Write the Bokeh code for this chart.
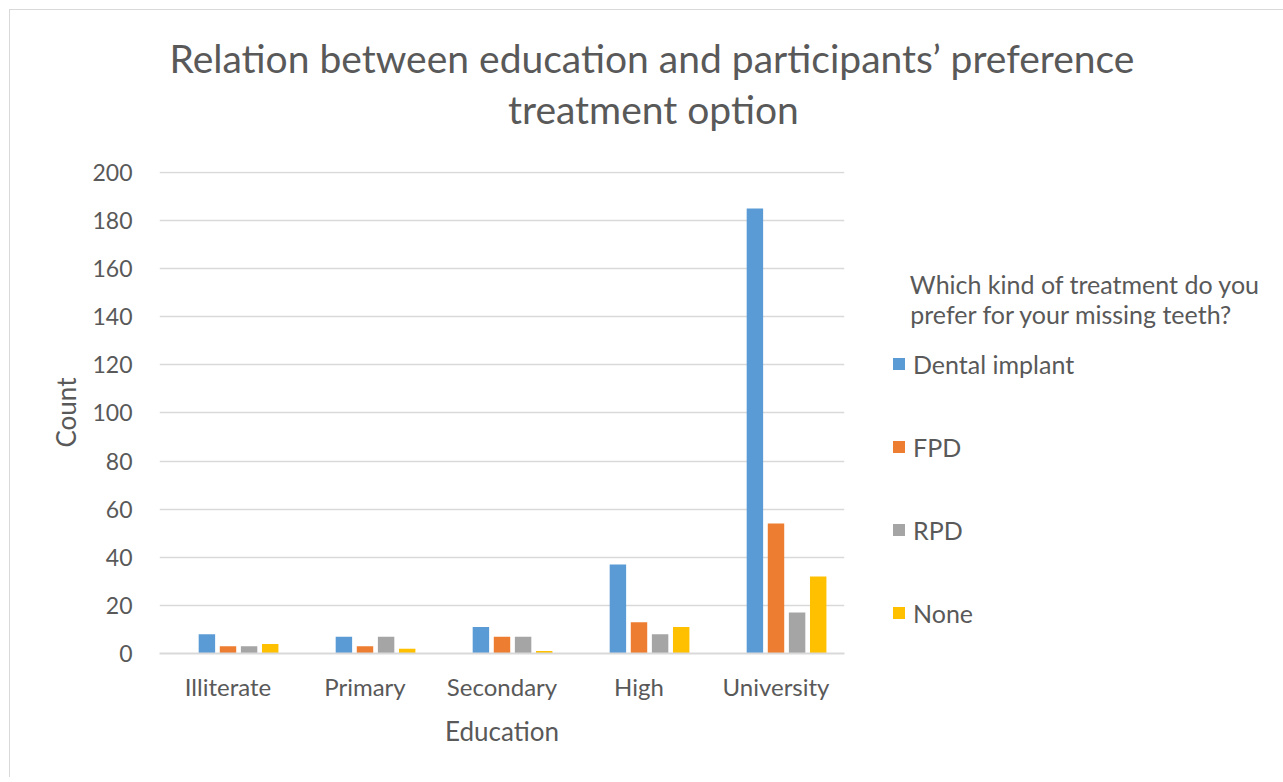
from bokeh.plotting import figure
from bokeh.models import Range1d, FixedTicker, Title, ColumnDataSource
from bokeh.transform import dodge
from bokeh.embed import file_html
from bokeh.resources import INLINE

# Survey counts: education level vs preferred treatment for missing teeth
education = ["Illiterate", "Primary", "Secondary", "High", "University"]
dental_implant = [8, 7, 11, 37, 185]
fpd = [3, 3, 7, 13, 54]
rpd = [3, 7, 7, 8, 17]
none = [4, 2, 1, 11, 32]
series_names = ["Dental implant", "FPD", "RPD", "None"]
y_ticks = [0, 20, 40, 60, 80, 100, 120, 140, 160, 180, 200]

title_lines = ["Relation between education and participants\u2019 preference",
               "treatment option"]
legend_title_lines = ["Which kind of treatment do you",
                      "prefer for your missing teeth?"]

FONT = "Lato"
TEXT = "#595959"
GRID = "#D9D9D9"
colors = ["#5B9BD5", "#ED7D31", "#A5A5A5", "#FFC000"]

source = ColumnDataSource(dict(education=education, dental=dental_implant,
                               fpd=fpd, rpd=rpd, none=none))

p = figure(x_range=education, y_range=Range1d(0, 200.4),
           frame_width=685, frame_height=482,
           min_border_left=149, min_border_right=435,
           min_border_top=161, min_border_bottom=124,
           output_backend="svg", toolbar_location=None,
           background_fill_color="white", border_fill_color="white",
           outline_line_color=None)
p.styles = {"margin-left": "9px", "margin-top": "9px",
            "border-left": "1px solid #D9D9D9", "border-top": "1px solid #D9D9D9"}

offsets = [-0.154, 0.0, 0.154, 0.308]
fields = ["dental", "fpd", "rpd", "none"]
for field, off, col, name in zip(fields, offsets, colors, series_names):
    p.vbar(x=dodge("education", off, range=p.x_range), top=field, width=0.12,
           source=source, fill_color=col, line_color=None, legend_label=name)

# axes
p.yaxis.ticker = FixedTicker(ticks=y_ticks)
p.yaxis.axis_line_color = None
p.yaxis.major_tick_line_color = None
p.yaxis.minor_tick_line_color = None
p.yaxis.major_label_standoff = 21
p.yaxis.axis_label = "Count"
p.yaxis.axis_label_standoff = 7
p.yaxis.major_label_text_font_size = "23px"

p.xaxis.axis_line_color = GRID
p.xaxis.axis_line_width = 2
p.xaxis.major_tick_line_color = None
p.xaxis.minor_tick_line_color = None
p.xaxis.major_label_standoff = 12
p.xaxis.axis_label = "Education"
p.xaxis.axis_label_standoff = 11
p.xaxis.major_label_text_font_size = "24px"

for ax in (p.xaxis, p.yaxis):
    ax.major_label_text_font = FONT
    ax.major_label_text_color = TEXT
    ax.axis_label_text_font = FONT
    ax.axis_label_text_font_size = "26px"
    ax.axis_label_text_font_style = "normal"
    ax.axis_label_text_color = TEXT

p.xgrid.grid_line_color = None
p.ygrid.grid_line_color = GRID
p.ygrid.grid_line_width = 1.5

# two-line chart title; the inner line is added first, the outer one is
# pulled down towards it with a negative standoff
for text, off, standoff in zip(reversed(title_lines), [348.5, 10], [79, -73]):
    p.add_layout(Title(text=text, align="left", offset=off, standoff=standoff,
                       text_font=FONT, text_font_size="39px",
                       text_font_style="normal", text_color=TEXT), "above")

lg = p.legend[0]
p.center.remove(lg)
indent = "\u00a0" * 3
lg.title = "\n".join(indent + t for t in legend_title_lines)
lg.title_text_font = FONT
lg.title_text_font_size = "25px"
lg.title_text_font_style = "normal"
lg.title_text_color = TEXT
lg.title_standoff = 20
lg.location = (47, 25.5)
lg.padding = 0
lg.margin = 0
lg.border_line_color = None
lg.background_fill_alpha = 0
lg.glyph_width = 15
lg.glyph_height = 15
lg.label_height = 28
lg.label_standoff = 7
lg.spacing = 53
lg.label_text_font = FONT
lg.label_text_font_size = "25px"
lg.label_text_color = TEXT
p.add_layout(lg, "right")

open("out.html", "w").write(file_html(p, INLINE))
